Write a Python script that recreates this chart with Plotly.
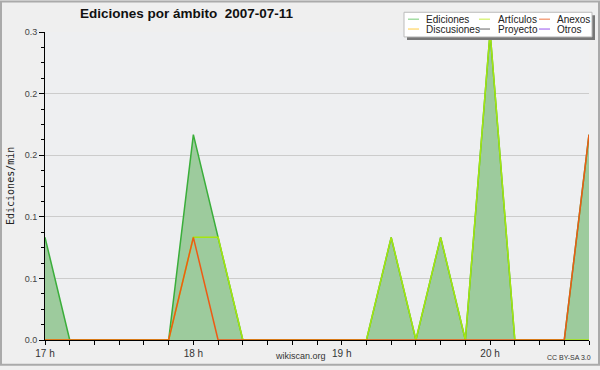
import plotly.graph_objects as go

# ---------------- data ----------------
times = ["2007-07-11 17:00", "2007-07-11 17:10", "2007-07-11 17:20", "2007-07-11 17:30",
         "2007-07-11 17:40", "2007-07-11 17:50", "2007-07-11 18:00", "2007-07-11 18:10",
         "2007-07-11 18:20", "2007-07-11 18:30", "2007-07-11 18:40", "2007-07-11 18:50",
         "2007-07-11 19:00", "2007-07-11 19:10", "2007-07-11 19:20", "2007-07-11 19:30",
         "2007-07-11 19:40", "2007-07-11 19:50", "2007-07-11 20:00", "2007-07-11 20:10",
         "2007-07-11 20:20", "2007-07-11 20:30", "2007-07-11 20:40"]
ediciones = [0.1, 0, 0, 0, 0, 0, 0.2, 0.1, 0, 0, 0, 0, 0, 0, 0.1, 0, 0.1, 0, 0.3, 0, 0, 0, 0.2]
articulos = [0, 0, 0, 0, 0, 0, 0.1, 0.1, 0, 0, 0, 0, 0, 0, 0.1, 0, 0.1, 0, 0.3, 0, 0, 0, 0]
anexos    = [0, 0, 0, 0, 0, 0, 0.1, 0, 0, 0, 0, 0, 0, 0, 0, 0, 0, 0, 0, 0, 0, 0, 0.2]

series_names = ["Ediciones", "Artículos", "Anexos", "Discusiones", "Proyecto", "Otros"]
series_values = {"Ediciones": ediciones, "Artículos": articulos, "Anexos": anexos}
series_colors = {"Ediciones": "#3aae3a", "Artículos": "#a6e60f", "Anexos": "#ee5a14",
                 "Discusiones": "#ffcc33", "Proyecto": "#555555", "Otros": "#9944ee"}
legend_colors = {"Ediciones": "#77cc77", "Artículos": "#c8ee44", "Anexos": "#ee7744",
                 "Discusiones": "#ffcc44", "Proyecto": "#666666", "Otros": "#9955ee"}

hour_ticks = ["2007-07-11 17:00", "2007-07-11 18:00", "2007-07-11 19:00", "2007-07-11 20:00"]
hour_labels = ["17 h", "18 h", "19 h", "20 h"]
y_ticks = [0, 0.06, 0.12, 0.18, 0.24, 0.3]
y_labels = ["0.0", "0.1", "0.1", "0.2", "0.2", "0.3"]

title_text = "Ediciones por ámbito\u00a0\u00a02007-07-11"
y_title = "Ediciones/min"

# ---------------- layout geometry ----------------
W, H = 600, 370
L, R, T, B = 45, 11, 32, 26
PW, PH = W - L - R, H - T - B


def px(x):
    return (x - L) / PW


def py(y):
    return (H - B - y) / PH


fig = go.Figure()

# total with fill
fig.add_trace(go.Scatter(x=times, y=ediciones, mode="lines", fill="tozeroy",
                         fillcolor="#9dcb9d", line=dict(color=series_colors["Ediciones"], width=1.5),
                         showlegend=False, hoverinfo="skip"))
for name in ["Artículos", "Anexos"]:
    fig.add_trace(go.Scatter(x=times, y=series_values[name], mode="lines",
                             line=dict(color=series_colors[name], width=1.5),
                             showlegend=False, hoverinfo="skip"))

shapes = []
annotations = []

# outer border
shapes.append(dict(type="rect", xref="paper", yref="paper", x0=px(1), x1=px(W - 1), y0=py(H - 1), y1=py(1),
                   line=dict(color="#aaaaaa", width=2), fillcolor="rgba(0,0,0,0)", layer="below"))

# legend box with shadow
shapes.append(dict(type="rect", xref="paper", yref="paper", x0=px(407), x1=px(595), y0=py(40), y1=py(15),
                   line=dict(width=0), fillcolor="#777777"))
shapes.append(dict(type="rect", xref="paper", yref="paper", x0=px(404), x1=px(592), y0=py(37), y1=py(12),
                   line=dict(width=1, color="#bbbbbb"), fillcolor="#ffffff"))

col_line_x = [408, 479, 539]
col_text_x = [424, 496, 555]
row_y = [19, 29]
for i, name in enumerate(series_names):
    c, r = i % 3, i // 3
    yy = row_y[r]
    shapes.append(dict(type="line", xref="paper", yref="paper", x0=px(col_line_x[c]), x1=px(col_line_x[c] + 11),
                       y0=py(yy), y1=py(yy), line=dict(color=legend_colors[name], width=1)))
    annotations.append(dict(text=name, xref="paper", yref="paper", x=px(col_text_x[c]), y=py(yy),
                            xanchor="left", yanchor="middle", showarrow=False,
                            font=dict(family="Liberation Sans", size=10, color="#222222")))

# title
annotations.append(dict(text="<b>" + title_text + "</b>", xref="paper", yref="paper", x=px(187), y=py(13),
                        xanchor="center", yanchor="middle", showarrow=False,
                        font=dict(family="Liberation Sans", size=13.5, color="#111111")))
# y title
annotations.append(dict(text=y_title, xref="paper", yref="paper", x=px(10), y=py(188), textangle=-90,
                        xanchor="center", yanchor="middle", showarrow=False,
                        font=dict(family="DejaVu Sans Mono", size=10, color="#222222")))
# footer texts
annotations.append(dict(text="wikiscan.org", xref="paper", yref="paper", x=px(300), y=py(360),
                        xanchor="center", yanchor="middle", showarrow=False,
                        font=dict(family="Liberation Sans", size=9, color="#333333")))
annotations.append(dict(text="CC BY-SA 3.0", xref="paper", yref="paper", x=px(569), y=py(362),
                        xanchor="center", yanchor="middle", showarrow=False,
                        font=dict(family="Liberation Sans", size=7, color="#333333")))

fig.update_layout(
    width=W, height=H,
    margin=dict(l=L, r=R, t=T, b=B, pad=0),
    paper_bgcolor="#efefef", plot_bgcolor="#eeeff1",
    showlegend=False,
    shapes=shapes, annotations=annotations,
    xaxis=dict(type="date", range=[times[0], times[-1]], tickvals=hour_ticks, ticktext=hour_labels,
               showgrid=False, zeroline=False, showline=True, linecolor="#000000", linewidth=1,
               ticks="outside", ticklen=4, tickcolor="#000000", tickwidth=1,
               minor=dict(dtick=600000, ticks="outside", ticklen=4, tickcolor="#000000", showgrid=False),
               tickfont=dict(family="Liberation Sans", size=10, color="#333333")),
    yaxis=dict(range=[0, 0.3], tickvals=y_ticks, ticktext=y_labels,
               showgrid=True, gridcolor="#cccccc", gridwidth=1, zeroline=False,
               showline=True, linecolor="#000000", linewidth=1,
               ticks="outside", ticklen=5, tickcolor="#000000", tickwidth=1,
               minor=dict(dtick=0.015, ticks="outside", ticklen=3, tickcolor="#000000", showgrid=False),
               tickfont=dict(family="Liberation Sans", size=9, color="#444444")),
)

fig.write_html("out.html", config={"displayModeBar": False},
               post_script="document.body.style.margin='0';document.body.style.overflow='hidden';")
